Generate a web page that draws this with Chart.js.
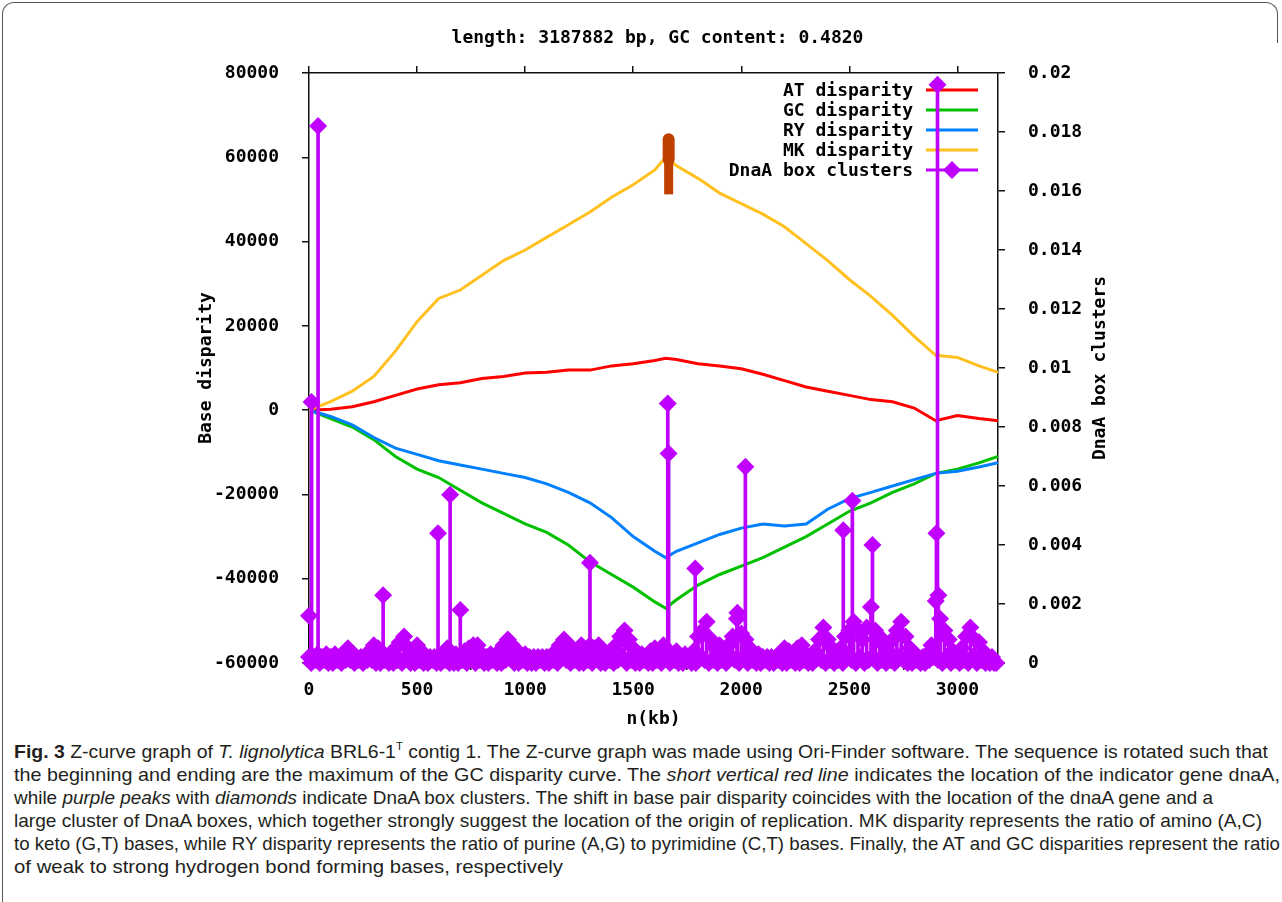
<!DOCTYPE html>
<html>
<head>
<meta charset="utf-8">
<script src="https://cdn.jsdelivr.net/npm/chart.js@4.4.1/dist/chart.umd.min.js"></script>
<style>
  body { margin: 0; background: #fff; width: 1282px; height: 902px; overflow: hidden; position: relative; }
  #frameTop { position: absolute; left: 2px; top: 2px; width: 1274px; height: 40px; border: 1.5px solid #555;
    border-bottom: none; border-radius: 12px 12px 0 0; }
  #frameLeft { position: absolute; left: 2px; top: 30px; width: 0; height: 880px; border-left: 1.5px solid #555; }
  #plot { position: absolute; left: 0; top: 0; }
  #title { position: absolute; left: 309px; top: 26px; width: 697px; text-align: center;
    font: bold 18px "DejaVu Sans Mono", monospace; color: #000; }
  #caption { position: absolute; left: 14px; top: 740px; white-space: nowrap;
    font-family: "Liberation Sans", Arial, sans-serif; font-size: 19px; line-height: 23px; color: #231f20; }
  #caption .cl { display: inline-block; transform-origin: 0 50%; }
  #caption sup { font-size: 11px; line-height: 0; vertical-align: 8px; }
</style>
</head>
<body>
<div id="frameTop"></div>
<div id="frameLeft"></div>
<canvas id="plot" width="1282" height="730"></canvas>
<div id="title">length: 3187882 bp, GC content: 0.4820</div>
<div id="caption">
<div><span class="cl"><b>Fig. 3</b> Z-curve graph of <i>T. lignolytica</i> BRL6-1<sup>T</sup> contig 1. The Z-curve graph was made using Ori-Finder software. The sequence is rotated such that</span></div>
<div><span class="cl">the beginning and ending are the maximum of the GC disparity curve. The <i>short vertical red line</i> indicates the location of the indicator gene dnaA,</span></div>
<div><span class="cl">while <i>purple peaks</i> with <i>diamonds</i> indicate DnaA box clusters. The shift in base pair disparity coincides with the location of the dnaA gene and a</span></div>
<div><span class="cl">large cluster of DnaA boxes, which together strongly suggest the location of the origin of replication. MK disparity represents the ratio of amino (A,C)</span></div>
<div><span class="cl">to keto (G,T) bases, while RY disparity represents the ratio of purine (A,G) to pyrimidine (C,T) bases. Finally, the AT and GC disparities represent the ratio</span></div>
<div><span class="cl">of weak to strong hydrogen bond forming bases, respectively</span></div>
</div>
<script>
// positions along the genome (kb) where the disparity curves were read
const curveKb = [0, 100, 200, 300, 400, 500, 600, 700, 800, 900, 1000, 1100, 1200, 1300, 1400, 1500, 1600, 1650,
  1700, 1800, 1900, 2000, 2100, 2200, 2300, 2400, 2500, 2600, 2700, 2800, 2900, 3000, 3100, 3188];

const atDisparity = [0, 200, 800, 2000, 3500, 5000, 6000, 6500, 7500, 8000, 8800, 9000, 9500, 9500, 10500, 11000, 11800, 12300,
  12000, 11000, 10500, 9800, 8500, 7000, 5500, 4500, 3500, 2500, 2000, 500, -2500, -1300, -2000, -2500];
const gcDisparity = [0, -2000, -4000, -7000, -11000, -14000, -16000, -19000, -22000, -24500, -27000, -29000, -32000, -36000, -39000, -42000, -45500, -47000,
  -45000, -41500, -39000, -37000, -35000, -32500, -30000, -27000, -24000, -22000, -19500, -17500, -15000, -14000, -12500, -11000];
const ryDisparity = [0, -1500, -3500, -6500, -9000, -10500, -12000, -13000, -14000, -15000, -16000, -17500, -19500, -22000, -25500, -30000, -33500, -35000,
  -33500, -31500, -29500, -28000, -27000, -27500, -27000, -23500, -21000, -19500, -18000, -16500, -15000, -14500, -13500, -12500];
const mkDisparity = [0, 2000, 4500, 8000, 14000, 21000, 26500, 28500, 32000, 35500, 38000, 41000, 44000, 47000, 50500, 53500, 57000, 60000,
  58000, 55000, 51500, 49000, 46500, 43500, 39500, 35500, 31000, 27000, 22500, 17500, 13000, 12500, 10500, 9000];

// dnaA gene marker (kb, base disparity span, wider head)
const dnaaGeneKb = 1664;
const dnaaGeneSpan = [51200, 61000];
const dnaaGeneHead = [59500, 64300];

// tall DnaA box cluster peaks
const boxPeakKb = [0, 12, 42, 343, 597, 653, 700, 1300, 1660, 1664, 1787, 1982, 2019, 2472, 2514, 2607, 2903, 2908, 2912];
const boxPeakValue = [0.0016, 0.00885, 0.0182, 0.0023, 0.0044, 0.0057, 0.0018, 0.0034, 0.0088, 0.0071, 0.0032, 0.0017, 0.00665,
  0.0045, 0.0055, 0.0040, 0.0044, 0.0196, 0.0023];

// low-level DnaA box values every 10 kb, in units of 1e-4
const boxStepKb = 10;
const boxLowValue = [
  2,0,2,1,3,0,2,1,3,0,2,0,3,1,2,0,2,1,5,1,
  3,0,2,1,2,0,2,1,4,1,6,0,5,0,3,1,2,0,3,0,
  5,1,7,0,9,2,5,0,3,0,6,1,4,0,2,0,2,1,2,0,
  2,0,3,1,5,0,3,0,3,0,2,1,4,0,5,2,6,0,6,1,
  3,0,2,0,3,1,2,0,4,0,6,1,8,2,6,0,3,0,3,1,
  3,0,2,0,2,0,2,1,2,0,2,0,2,1,4,0,6,2,8,1,
  5,0,5,1,3,0,6,0,4,1,6,0,5,2,6,0,3,0,3,1,
  3,0,6,1,9,2,11,0,8,1,5,0,3,0,3,1,2,0,4,0,
  5,1,3,0,6,2,4,0,3,1,4,0,2,0,3,1,2,0,4,0,
  9,2,11,1,14,0,8,1,5,0,6,1,4,0,6,2,9,1,15,0,
  10,2,8,0,5,1,3,0,3,0,2,1,2,0,2,0,2,1,3,0,
  5,0,4,1,2,0,5,0,6,1,3,0,2,0,4,2,8,1,12,0,
  8,1,5,0,3,1,5,0,9,2,11,1,14,0,11,2,8,0,12,1,
  19,2,11,0,9,1,6,0,4,1,8,0,11,2,14,1,9,0,5,0,
  3,1,2,0,2,0,3,1,6,2,21,1,15,0,11,2,8,0,4,1,
  3,0,5,1,9,0,12,2,8,0,7,1,4,0,2,0,2,0,0
];

const seriesNames = ['AT disparity', 'GC disparity', 'RY disparity', 'MK disparity', 'DnaA box clusters'];
const xTicksKb = [0, 500, 1000, 1500, 2000, 2500, 3000];
const genomeKb = 3187.882;

// caption line widths in the figure (px)
const captionWidths = [1254, 1266, 1199, 1248, 1266, 549];

const colors = { at: '#ff0000', gc: '#00c000', ry: '#0080ff', mk: '#ffc020', box: '#c000ff', gene: '#c04000' };
const FONT = { family: "'DejaVu Sans Mono', monospace", size: 18, weight: 'bold' };

document.querySelectorAll('#caption .cl').forEach((el, i) => {
  const w = el.getBoundingClientRect().width;
  el.style.transform = `scaleX(${captionWidths[i] / w})`;
});

const curve = (vals) => curveKb.map((k, i) => ({ x: k, y: vals[i] }));
const boxPoints = boxLowValue.map((v, i) => ({ x: i * boxStepKb, y: v / 10000 }))
  .concat(boxPeakKb.map((k, i) => ({ x: k, y: boxPeakValue[i] })));

const lineSet = (label, vals, color, order) => ({
  type: 'line', label, data: curve(vals), borderColor: color, borderWidth: 3,
  pointRadius: 0, tension: 0, xAxisID: 'x', yAxisID: 'y', order
});

// gnuplot style key: text right aligned, sample to the right
const keyPlugin = {
  id: 'key',
  beforeDatasetsDraw(chart) {
    const ctx = chart.ctx;
    const rows = [colors.at, colors.gc, colors.ry, colors.mk, colors.box];
    ctx.save();
    ctx.font = `bold ${FONT.size}px ${FONT.family}`;
    ctx.textAlign = 'right';
    ctx.textBaseline = 'middle';
    rows.forEach((c, i) => {
      const y = 90 + i * 20;
      ctx.fillStyle = '#000';
      ctx.fillText(seriesNames[i], 913, y + 1);
      ctx.strokeStyle = c;
      ctx.lineWidth = 3;
      ctx.beginPath();
      ctx.moveTo(926, y);
      ctx.lineTo(978, y);
      ctx.stroke();
      if (i === 4) {
        ctx.fillStyle = c;
        ctx.beginPath();
        ctx.moveTo(952 - 9, y); ctx.lineTo(952, y - 9); ctx.lineTo(952 + 9, y); ctx.lineTo(952, y + 9);
        ctx.closePath();
        ctx.fill();
      }
    });
    ctx.restore();
  },
  afterDraw(chart) {
    const ctx = chart.ctx;
    ctx.save();
    ctx.translate(1100, chart.chartArea.top + (chart.chartArea.bottom - chart.chartArea.top) / 2);
    ctx.rotate(-Math.PI / 2);
    ctx.font = `bold ${FONT.size}px ${FONT.family}`;
    ctx.fillStyle = '#000';
    ctx.textAlign = 'center';
    ctx.textBaseline = 'middle';
    ctx.fillText(seriesNames[4], 0, 0);
    ctx.restore();
  }
};

const axisGrid = { drawOnChartArea: false, tickLength: 7, color: '#111', lineWidth: 1.5 };
const axisBorder = { color: '#111', width: 1.5 };

new Chart(document.getElementById('plot'), {
  type: 'line',
  data: {
    datasets: [
      {
        type: 'line', label: 'DnaA diamonds', data: boxPoints, showLine: false,
        pointStyle: 'rectRot', pointRadius: 9, pointBorderWidth: 0,
        pointBackgroundColor: colors.box, xAxisID: 'x', yAxisID: 'y2', clip: false, order: 0
      },
      {
        type: 'bar', label: seriesNames[4], data: boxPoints, backgroundColor: colors.box,
        barThickness: 3, borderWidth: 0, grouped: false, xAxisID: 'x', yAxisID: 'y2', order: 1
      },
      {
        type: 'line', label: 'dnaA', data: dnaaGeneSpan.map(v => ({ x: dnaaGeneKb, y: v })),
        borderColor: colors.gene, borderWidth: 9, pointRadius: 0, xAxisID: 'x', yAxisID: 'y', order: 2
      },
      {
        type: 'line', label: 'dnaA head', data: dnaaGeneHead.map(v => ({ x: dnaaGeneKb, y: v })),
        borderColor: colors.gene, borderWidth: 12, borderCapStyle: 'round', pointRadius: 0,
        xAxisID: 'x', yAxisID: 'y', order: 2
      },
      lineSet(seriesNames[3], mkDisparity, colors.mk, 3),
      lineSet(seriesNames[2], ryDisparity, colors.ry, 4),
      lineSet(seriesNames[1], gcDisparity, colors.gc, 5),
      lineSet(seriesNames[0], atDisparity, colors.at, 6)
    ]
  },
  options: {
    responsive: false,
    animation: false,
    devicePixelRatio: 1,
    layout: { padding: { left: 192, right: 0, top: 0, bottom: 0 } },
    font: FONT,
    plugins: { legend: { display: false }, tooltip: { enabled: false } },
    scales: {
      x: {
        type: 'linear', position: 'bottom', min: 0, max: genomeKb, offset: false,
        afterBuildTicks: s => { s.ticks = xTicksKb.map(v => ({ value: v })); },
        ticks: { font: FONT, color: '#000', padding: 10, maxRotation: 0, callback: v => String(v) },
        grid: axisGrid, border: axisBorder,
        title: { display: true, text: 'n(kb)', font: FONT, color: '#000', padding: { top: 0, bottom: 0 } },
        afterFit: s => { s.height = 730 - 663; }
      },
      x2: {
        type: 'linear', position: 'top', min: 0, max: genomeKb, offset: false,
        afterBuildTicks: s => { s.ticks = xTicksKb.map(v => ({ value: v })); },
        ticks: { display: false },
        grid: axisGrid, border: axisBorder,
        afterFit: s => { s.height = 73; }
      },
      y: {
        type: 'linear', position: 'left', min: -60000, max: 80000,
        ticks: { stepSize: 20000, font: FONT, color: '#000', padding: 23, callback: v => String(v) },
        grid: axisGrid, border: axisBorder,
        title: { display: true, text: 'Base disparity', font: FONT, color: '#000', padding: { top: 4, bottom: 0 } },
        afterFit: s => { s.width = 309 - 192; }
      },
      y2: {
        type: 'linear', position: 'right', min: 0, max: 0.02,
        ticks: { stepSize: 0.002, font: FONT, color: '#000', padding: 23, callback: v => String(Number(v.toFixed(4))) },
        grid: axisGrid, border: axisBorder,
        afterFit: s => { s.width = 1282 - 998; }
      }
    }
  },
  plugins: [keyPlugin]
});
</script>
</body>
</html>
